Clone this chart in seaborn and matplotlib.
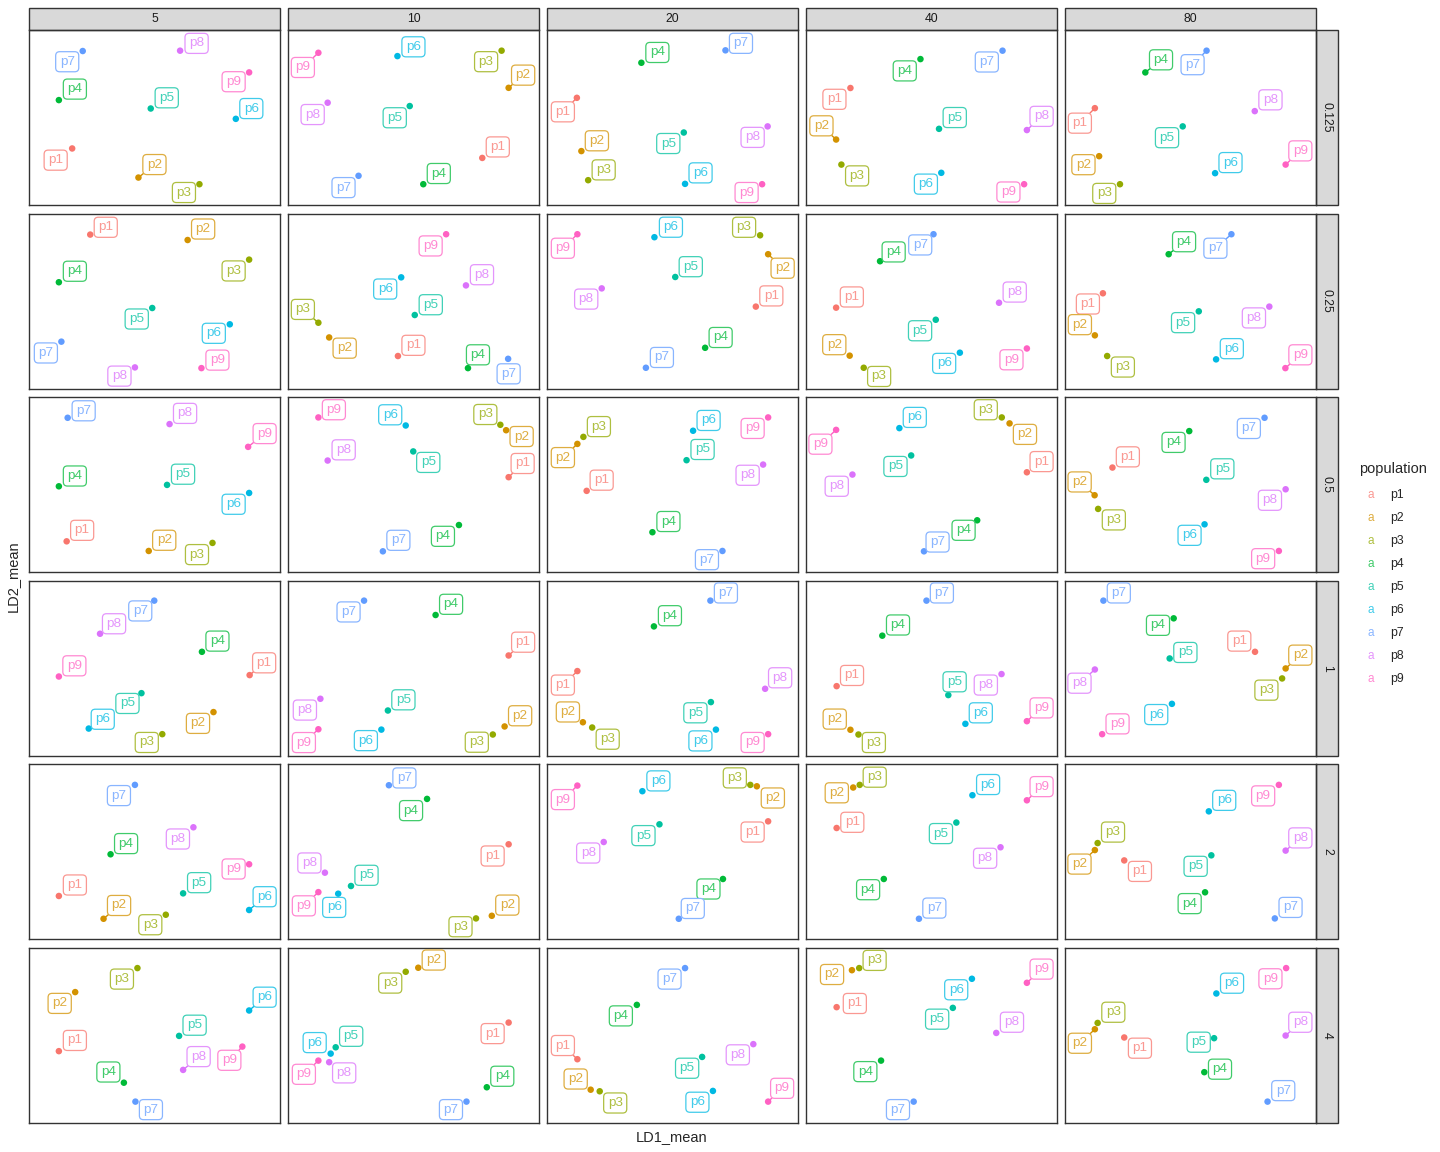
import numpy as np
import pandas as pd
import matplotlib
matplotlib.use("Agg")
import matplotlib.pyplot as plt
import seaborn as sns
from matplotlib.patches import Rectangle
from matplotlib.colors import to_rgb

# %%
# data (panel units 0-100), one list of 9 populations per column facet
populations = ["p1", "p2", "p3", "p4", "p5", "p6", "p7", "p8", "p9"]
col_levels = [5, 10, 20, 40, 80]
row_levels = [0.125, 0.25, 0.5, 1, 2, 4]
row_names = ["0.125", "0.25", "0.5", "1", "2", "4"]

LD1_0125 = [[17.2, 43.6, 67.9, 11.9, 48.5, 82.4, 21.4, 60.2, 87.7],
            [77.4, 87.9, 85.1, 53.9, 48.5, 43.6, 28.1, 15.8, 12.1],
            [11.9, 13.7, 16.4, 37.6, 54.5, 55.0, 71.1, 87.9, 85.7],
            [17.7, 12.0, 14.1, 45.6, 53.0, 53.9, 78.3, 88.0, 86.9],
            [11.9, 13.6, 21.9, 32.0, 46.9, 59.8, 56.4, 75.6, 87.9]]
LD2_0125 = [[32.4, 15.8, 12.0, 60.0, 55.2, 49.3, 88.0, 88.2, 75.8],
            [27.0, 67.0, 88.2, 12.0, 56.6, 85.1, 16.8, 58.5, 87.0],
            [61.3, 30.9, 14.3, 81.3, 41.5, 12.2, 88.4, 45.0, 12.0],
            [66.9, 37.5, 23.2, 83.4, 43.6, 18.5, 88.2, 42.9, 12.0],
            [55.4, 28.0, 12.0, 75.8, 45.0, 18.3, 88.2, 53.7, 23.2]]

LD1_025 = [[24.4, 63.2, 87.7, 11.9, 49.1, 80.0, 12.9, 42.2, 68.7],
           [43.8, 16.4, 12.1, 71.7, 50.5, 45.1, 87.7, 70.9, 63.0],
           [83.2, 88.1, 84.9, 63.0, 51.1, 42.8, 39.4, 21.8, 12.1],
           [12.0, 17.4, 23.0, 29.5, 51.7, 61.3, 50.8, 76.9, 88.0],
           [15.1, 11.9, 16.8, 41.3, 53.3, 60.2, 66.3, 81.4, 87.8]]
LD2_025 = [[88.0, 84.9, 73.7, 60.8, 46.1, 36.8, 26.9, 12.2, 11.8],
           [18.7, 29.3, 37.7, 11.8, 42.1, 63.6, 17.1, 59.0, 88.2],
           [46.9, 76.8, 87.6, 23.4, 63.8, 86.5, 12.0, 57.3, 88.2],
           [46.3, 18.9, 12.0, 72.8, 39.4, 20.6, 88.2, 49.1, 23.0],
           [54.5, 30.5, 18.7, 76.8, 44.2, 16.8, 88.2, 46.9, 11.8]]

LD1_05 = [[15.0, 47.7, 73.1, 11.9, 55.0, 87.7, 15.4, 56.0, 87.3],
          [87.9, 86.9, 84.6, 68.1, 49.9, 46.9, 37.8, 15.8, 12.1],
          [15.8, 12.1, 14.5, 42.0, 55.6, 58.2, 69.9, 86.1, 88.1],
          [88.0, 81.1, 78.0, 68.2, 41.9, 37.2, 47.0, 18.5, 12.0],
          [18.9, 11.8, 13.2, 49.5, 56.3, 55.6, 79.5, 87.9, 85.2]]
LD2_05 = [[17.7, 12.2, 16.8, 49.1, 49.9, 45.3, 88.2, 84.6, 71.6],
          [54.3, 81.1, 84.2, 27.0, 69.0, 83.8, 12.0, 63.8, 88.4],
          [46.5, 73.3, 77.3, 22.9, 64.0, 80.8, 12.2, 61.5, 88.4],
          [57.1, 85.0, 88.4, 29.7, 66.7, 82.3, 12.0, 55.8, 81.3],
          [59.8, 44.0, 36.2, 80.6, 52.8, 27.4, 88.2, 47.4, 12.2]]

LD1_1 = [[87.9, 73.5, 53.1, 68.9, 44.8, 23.8, 49.9, 28.3, 11.9],
         [87.9, 86.3, 81.6, 58.8, 39.8, 37.2, 30.3, 12.9, 12.1],
         [12.1, 14.3, 18.0, 42.6, 65.3, 67.3, 65.1, 86.9, 88.1],
         [12.2, 17.7, 20.9, 30.4, 56.7, 63.5, 48.0, 77.9, 88.0],
         [75.7, 87.9, 86.5, 43.3, 41.7, 42.6, 15.3, 11.9, 14.8]]
LD2_1 = [[46.1, 25.0, 12.4, 59.4, 35.8, 15.6, 88.6, 69.7, 45.3],
         [57.3, 16.8, 12.2, 80.4, 25.9, 15.0, 88.6, 32.6, 15.2],
         [48.4, 19.2, 16.2, 73.9, 30.7, 15.0, 88.6, 38.3, 12.4],
         [39.8, 14.9, 12.2, 68.6, 34.7, 18.3, 88.6, 46.7, 19.8],
         [59.4, 49.9, 44.2, 78.5, 55.6, 29.7, 88.6, 49.3, 12.4]]

LD1_2 = [[11.9, 29.7, 54.5, 32.5, 61.4, 87.7, 42.2, 65.5, 87.7],
         [87.9, 81.2, 74.9, 55.4, 25.1, 20.0, 40.2, 14.7, 12.1],
         [88.1, 83.6, 81.0, 70.1, 44.8, 38.0, 52.5, 22.6, 12.1],
         [12.2, 18.8, 21.4, 31.0, 59.9, 66.3, 45.0, 77.5, 88.0],
         [23.6, 11.9, 13.0, 55.8, 58.3, 57.3, 83.6, 87.9, 85.2]]
LD2_2 = [[24.8, 11.8, 14.1, 48.6, 26.3, 16.8, 88.2, 64.0, 42.9],
         [54.3, 13.5, 12.0, 80.2, 30.5, 26.1, 88.0, 38.1, 27.0],
         [67.4, 87.4, 88.2, 34.5, 65.7, 84.6, 11.8, 55.6, 87.8],
         [63.6, 86.7, 88.2, 34.5, 66.7, 82.3, 11.8, 52.6, 79.4],
         [45.1, 51.0, 55.0, 26.9, 48.0, 73.1, 12.0, 50.7, 88.2]]

LD1_4 = [[11.9, 18.4, 43.2, 37.8, 59.8, 87.7, 42.4, 61.4, 85.0],
         [87.9, 51.9, 46.9, 79.2, 19.0, 17.0, 71.1, 16.4, 12.1],
         [12.1, 17.4, 21.0, 35.8, 61.8, 66.1, 55.0, 82.2, 88.1],
         [12.2, 18.3, 21.2, 29.9, 58.5, 66.1, 42.9, 75.8, 88.0],
         [23.6, 11.9, 13.0, 55.5, 59.4, 60.3, 80.7, 87.9, 88.1]]
LD2_4 = [[41.0, 74.7, 88.4, 23.0, 49.7, 64.2, 12.2, 30.3, 43.6],
         [57.3, 88.6, 86.3, 20.4, 43.2, 39.6, 12.2, 34.7, 35.6],
         [36.4, 19.0, 18.1, 67.4, 37.7, 18.3, 88.4, 45.0, 12.2],
         [66.1, 87.2, 88.4, 35.6, 65.7, 82.3, 12.2, 51.4, 80.0],
         [48.8, 53.5, 57.1, 29.0, 48.4, 73.9, 12.2, 49.9, 88.4]]

# %%
# where each repelled label sits relative to its point (pixels, right / up)
label_dx = {
    0.125: [[-16.5, 16, -15.5, 16, 16, 15.5, -15.5, 16.5, -15.5],
            [15.5, 14.5, -15.5, 15.5, -15, 16, -15, -15, -15.5],
            [-14, 15.5, 15.5, 16, -15.5, 15.5, 15.5, -15, -15.5],
            [-16, -14.7, 15.7, -15.7, 15.7, -15.4, -15.7, 14.7, -15.7],
            [-15, -15.7, -15.7, 15.7, -15.7, 15.4, -14, 15.7, 14.7]],
    0.25: [[15.5, 15.5, -15.5, 16, -15.5, -16, -15.5, -15.5, 16],
           [15.5, 15.5, -15.5, 10, 16, -16, 0.5, 16, -15.5],
           [15.5, 14.5, -16, 15.5, 15.5, 16.5, 16, -15.5, -14.5],
           [15.7, -15.4, 15.4, 13.6, -15.7, -15.7, -13.3, 15.7, -15.4],
           [-15, -15, 15.7, 15.4, -15.7, 15.7, -16, -15.4, 15]],
    0.5: [[15.5, 15.5, -15.5, 16, 16, -15.5, 16, 15.5, 16.5],
          [14, 15.5, -15, -16, 15, -15.5, 15.5, 16, 15.5],
          [15, -14.5, 15.5, 16, 16, 15.5, -15.5, -15.5, -15.5],
          [14.7, 15.4, -16, -13.6, -15.7, 15.4, 13.6, -15.7, -15.7],
          [15.4, -15, 15.7, -15.7, 16, -15, -15.7, -15.7, -15.7]],
    1: [[14.5, -15.5, -15.5, 15.5, -14, 14, -14, 14, 15.5],
        [14.5, 15.5, -16, 15.5, 15.5, -15.5, -15.5, -15.5, -14.5],
        [-14.5, -15, 15.5, 16, -15.5, -15.5, 15.5, 15, -15.5],
        [15.4, -15.7, 15.4, 15.7, 6.3, 15.4, 15.4, -15.7, 14.7],
        [-15.7, 14.7, -15.7, -15.7, 15.7, -15.7, 15.4, -15.4, 15.4]],
    2: [[16, 15.5, -15.5, 15.5, 16, 15.5, -16, -15.5, -15.5],
        [-16, 15.5, -15.5, -16, 15.5, -4, 15.5, -15.5, -14.5],
        [-15.5, 16, -15.5, -14.5, -16, 16, 14, -15.5, -14.5],
        [15.7, -16.4, 15, -15.7, -15.4, 15.7, 15.4, -15.4, 14.7],
        [15.7, -15.4, 15.4, -15.4, -15.7, 15.4, 15.7, 14.7, -15.7]],
    4: [[16, -15.5, -15.5, -15.5, 15.5, 15.5, 15.5, 15.5, -13],
        [-16, 15.5, -15.5, 15.5, 15.5, -16, -15.5, 15, -14.5],
        [-14.5, -15, 15.5, -16, -15, -15.5, -15.5, -15.5, 14],
        [18.2, -19.9, 15.4, -15.7, -15.7, -15.7, -15.7, 15.7, 14.7],
        [15.7, -15, 15.7, 15.7, -15.4, 15.7, 15.7, 14.7, -15.7]],
}
label_dy = {
    0.125: [[-11.7, 13, -8.3, 11, 10.7, 10.3, -10.7, 7.3, -9.3],
            [11, 12.7, -11, 10.7, -11.7, 9.3, -11.8, -11.8, -14.7],
            [-14, 10.3, 10.3, 10.3, -11, 11, 7, -11, -8.3],
            [-11.3, 13.7, -11.3, -11.8, 11.3, -11.3, -11.3, 13.7, -7.8],
            [-15, -8.5, -9.2, 12.6, -11.3, 10.6, -14, 11.3, 13.7]],
    0.25: [[7.3, 11, -11.3, 11, -11, -9, -11.3, -8.7, 8],
           [10.7, -10.7, 13.3, 13.3, 10.3, -11.7, -15, 10.7, -11.7],
           [10.7, -14, 8, 10.3, 10.3, 10, 10.3, -10.7, -14],
           [10.7, 11, -8.7, 9.3, -11, -10.7, -10.7, 10.7, -11.3],
           [-10.7, 10.7, -11, 12.5, -11.3, 10.7, -14, -11.3, 13.3]],
    0.5: [[11, 10.7, -11.7, 10.3, 10.7, -11.3, 7, 10.7, 13.3],
          [13.7, -6.3, 10.3, -11.3, -11, 10.7, 11, 10.7, 7.7],
          [10.7, -13.7, 10.3, 10.7, 10.7, 10.3, -8.7, -10.7, -11],
          [10.7, -11, 7.7, -10, -11, 10.7, 9.3, -11.7, -14.3],
          [10.7, 13.3, -11, -11.3, 11, -11, -10.7, -11, -7.7]],
    1: [[12.3, -11.3, -8.3, 10.7, -10.3, 9.3, -10.3, 10, 10.7],
        [13.3, 10.7, -7.7, 10.7, 10.7, -11, -11.3, -11.3, -13.3],
        [-14, 10.3, -11.7, 10.7, -10.7, -11.3, 7.7, 11, -8.3],
        [10.7, 10.7, -8, 10.7, 13.3, 11, 7.7, -11, 13.3],
        [10.7, 13.3, -11.7, -7, 6, -10.7, 7.7, -13.7, 10.3]],
    2: [[11, 13.3, -10, 10.7, 10.7, 13.3, -10.7, -11.7, -4.7],
        [-11.7, 10.7, -8.3, -11.7, 10.7, -13.7, 7.3, 9.7, -13.7],
        [-10.7, -11.7, 7, -10, -11.3, 10.3, 10.3, -11, -14],
        [5.7, -5.3, 7.7, -10.7, -11, 10.7, 10.7, -11, 13.7],
        [-11, -14, 11, -11.3, -11, 11, 11, 12.7, -11]],
    4: [[10.7, -11.3, -11, 10.7, 10.7, 13.3, -8, 13.3, -13.7],
        [-11, 7.7, -11.3, 11, 11, 11, -8, -10.7, -13.7],
        [13.7, 10.7, -11.7, -11, -11.3, -11.3, -11, -10.7, 13.3],
        [3.7, -4.3, 7.7, -11, -11.3, -11, -8, 10.7, 13.7],
        [-10.7, -14, 10.7, 3, -4, 10.3, 11, 13.3, -10.7]],
}

ld1_by_row = {0.125: LD1_0125, 0.25: LD1_025, 0.5: LD1_05, 1: LD1_1, 2: LD1_2, 4: LD1_4}
ld2_by_row = {0.125: LD2_0125, 0.25: LD2_025, 0.5: LD2_05, 1: LD2_1, 2: LD2_2, 4: LD2_4}

records = []
for r in row_levels:
    for ci, c in enumerate(col_levels):
        for pi, p in enumerate(populations):
            records.append({"row_val": r, "col_val": c, "population": p,
                            "LD1_mean": ld1_by_row[r][ci][pi],
                            "LD2_mean": ld2_by_row[r][ci][pi],
                            "dx": label_dx[r][ci][pi], "dy": label_dy[r][ci][pi]})
df = pd.DataFrame(records)

# ggplot default hue palette for 9 levels
pal = ["#F8766D", "#D39200", "#93AA00", "#00BA38", "#00C19F",
       "#00B9E3", "#619CFF", "#DB72FB", "#FF61C3"]
pal_map = dict(zip(populations, pal))


def faded(c, a=0.75):
    rgb = np.array(to_rgb(c))
    return tuple(rgb * a + (1 - a))


# %%
sns.set_theme(style="white")
plt.rcParams["font.family"] = ["Liberation Sans", "DejaVu Sans"]

g = sns.FacetGrid(df, row="row_val", col="col_val", row_order=row_levels,
                  col_order=col_levels, sharex=False, sharey=False,
                  height=1.75, aspect=251 / 175, despine=False)
g.map_dataframe(sns.scatterplot, x="LD1_mean", y="LD2_mean", hue="population",
                hue_order=populations, palette=pal, s=22, linewidth=0,
                legend=False, zorder=2)

fig = g.figure
fig.set_size_inches(14.4, 11.52)
fig.set_dpi(100)
fig.subplots_adjust(left=29 / 1440, right=1316 / 1440,
                    top=1 - 30 / 1152, bottom=1 - 1123 / 1152,
                    wspace=8 / 251, hspace=8.3 / 175)

strip_h = 22 / 175
strip_w = 22 / 251

for ri, r in enumerate(row_levels):
    for ci, c in enumerate(col_levels):
        ax = g.axes[ri, ci]
        ax.set_xlim(0, 100)
        ax.set_ylim(0, 100)
        ax.set_xticks([])
        ax.set_yticks([])
        ax.set_xlabel("")
        ax.set_ylabel("")
        ax.set_title("")
        for sp in ax.spines.values():
            sp.set_color("#333333")
            sp.set_linewidth(1.0)

        sub = df[(df["row_val"] == r) & (df["col_val"] == c)]
        for _, rec in sub.iterrows():
            col = pal_map[rec["population"]]
            light = faded(col)
            seg = abs(rec["dx"]) >= 12 and abs(rec["dy"]) >= 12
            arrow = dict(arrowstyle="-", color=col, lw=1.0, shrinkA=0, shrinkB=0) if seg else None
            ax.annotate(rec["population"], xy=(rec["LD1_mean"], rec["LD2_mean"]),
                        xytext=(rec["dx"], rec["dy"]), textcoords="offset pixels",
                        ha="center", va="center", fontsize=9.7, color=light,
                        bbox=dict(boxstyle="round,pad=0.3", fc="white", ec=light, lw=0.9),
                        arrowprops=arrow, annotation_clip=False, zorder=3)

        if ri == 0:
            ax.add_patch(Rectangle((0, 1), 1, strip_h, transform=ax.transAxes,
                                   fc="#D9D9D9", ec="#333333", lw=1.0, clip_on=False))
            ax.text(0.5, 1 + strip_h / 2, str(c), transform=ax.transAxes,
                    ha="center", va="center", fontsize=8.8, color="#1A1A1A")
        if ci == len(col_levels) - 1:
            ax.add_patch(Rectangle((1, 0), strip_w, 1, transform=ax.transAxes,
                                   fc="#D9D9D9", ec="#333333", lw=1.0, clip_on=False))
            ax.text(1 + strip_w / 2, 0.5, row_names[ri], transform=ax.transAxes,
                    ha="center", va="center", rotation=-90, fontsize=8.8, color="#1A1A1A")

# axis titles
fig.text(672 / 1440, 1 - 1137 / 1152, "LD1_mean", ha="center", va="center", fontsize=10.5)
fig.text(13 / 1440, 1 - 576 / 1152, "LD2_mean", ha="center", va="center",
         rotation=90, fontsize=10.5)

# legend (letter keys like geom_label)
fig.text(1359 / 1440, 1 - 469 / 1152, "population", ha="left", va="center", fontsize=10.5)
for i, p in enumerate(populations):
    yy = 1 - (495 + 23 * i) / 1152
    fig.text(1371 / 1440, yy, "a", ha="center", va="center", fontsize=8.5,
             color=faded(pal[i]))
    fig.text(1390 / 1440, yy, p, ha="left", va="center", fontsize=8.8)

fig.savefig("out.png", dpi=100, facecolor="white")
